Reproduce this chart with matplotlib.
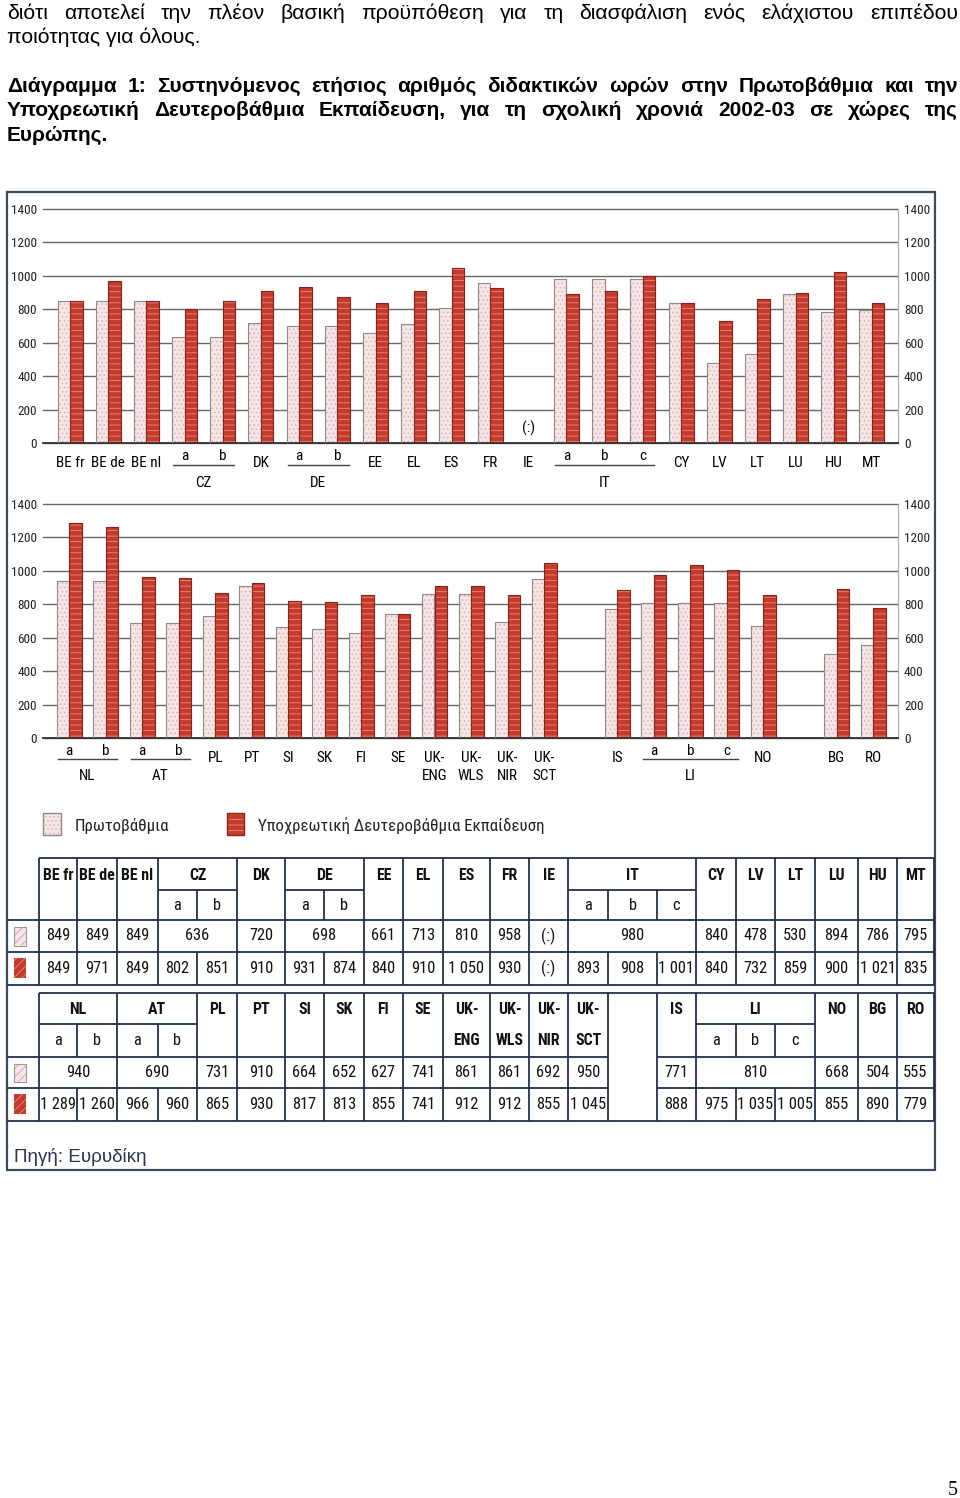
import os
import numpy as np
import matplotlib
matplotlib.use('Agg')
import matplotlib.pyplot as plt
from matplotlib import font_manager as fm
from matplotlib.font_manager import FontProperties
from matplotlib.ft2font import FT2Font
from matplotlib.patches import Rectangle
from matplotlib.transforms import blended_transform_factory

# ---------------- data ----------------
top_labels = ['BE fr', 'BE de', 'BE nl', 'a', 'b', 'DK', 'a', 'b', 'EE', 'EL', 'ES', 'FR', 'IE',
              'a', 'b', 'c', 'CY', 'LV', 'LT', 'LU', 'HU', 'MT']
top_primary = [849, 849, 849, 636, 636, 720, 698, 698, 661, 713, 810, 958, None,
               980, 980, 980, 840, 478, 530, 894, 786, 795]
top_secondary = [849, 971, 849, 802, 851, 910, 931, 874, 840, 910, 1050, 930, None,
                 893, 908, 1001, 840, 732, 859, 900, 1021, 835]
top_groups = [('CZ', 3, 4), ('DE', 6, 7), ('IT', 13, 15)]

bottom_labels = ['a', 'b', 'a', 'b', 'PL', 'PT', 'SI', 'SK', 'FI', 'SE', 'UK-\nENG', 'UK-\nWLS',
                 'UK-\nNIR', 'UK-\nSCT', None, 'IS', 'a', 'b', 'c', 'NO', None, 'BG', 'RO']
bottom_primary = [940, 940, 690, 690, 731, 910, 664, 652, 627, 741, 861, 861, 692, 950, None,
                  771, 810, 810, 810, 668, None, 504, 555]
bottom_secondary = [1289, 1260, 966, 960, 865, 930, 817, 813, 855, 741, 912, 912, 855, 1045, None,
                    888, 975, 1035, 1005, 855, None, 890, 779]
bottom_groups = [('NL', 0, 1), ('AT', 2, 3), ('LI', 16, 18)]
# chart slots shown as table columns (slot 20 is only a spacer in the chart)
bottom_table_slots = [i for i in range(len(bottom_labels)) if i != 20]

y_ticks = [0, 200, 400, 600, 800, 1000, 1200, 1400]
legend_labels = ['Πρωτοβάθμια', 'Υποχρεωτική Δευτεροβάθμια Εκπαίδευση']
missing_text = '(:)'

body_lines = ['διότι αποτελεί την πλέον βασική προϋπόθεση για τη διασφάλιση ενός ελάχιστου επιπέδου',
              'ποιότητας για όλους.']
caption_lines = ['Διάγραμμα 1:  Συστηνόμενος ετήσιος αριθμός διδακτικών ωρών στην Πρωτοβάθμια και την',
                 'Υποχρεωτική Δευτεροβάθμια Εκπαίδευση, για τη σχολική χρονιά 2002-03 σε χώρες της',
                 'Ευρώπης.']
source_text = 'Πηγή: Ευρυδίκη'
page_number = '5'

# ---------------- style ----------------
W, H = 960, 1498
RED = '#c43a2c'
RED_HATCH = '#e88c80'
RED_EDGE = '#8a2117'
LIGHT = '#f8e6e6'
LIGHT_HATCH = '#c8b4b4'
LIGHT_EDGE = '#8e8888'
GRID = '#666666'
LINE = '#23304d'
FRAME = '#3b4b5e'
plt.rcParams['hatch.linewidth'] = 0.6

paths = fm.findSystemFonts()
lowmap = {os.path.basename(p).lower(): p for p in paths}


def has_greek(path):
    try:
        cm = FT2Font(path).get_charmap()
        return ord('Π') in cm and ord('ά') in cm
    except Exception:
        return False


def pick(names, bold):
    for n in names:
        p = lowmap.get(n.lower())
        if p and has_greek(p):
            return p
    cands = []
    for base, p in lowmap.items():
        if not base.endswith(('.ttf', '.otf')):
            continue
        if ('condensed' in base or 'narrow' in base) and 'italic' not in base and 'oblique' not in base:
            isb = 'bold' in base and 'semi' not in base and 'extra' not in base.replace('extracondensed', '')
            if isb == bold and 'light' not in base and 'thin' not in base and 'black' not in base \
                    and 'medium' not in base and has_greek(p):
                cands.append(p)
    cands.sort()
    return cands[0] if cands else None


REG = pick(['RobotoCondensed-Regular.ttf', 'Roboto-Condensed.ttf', 'OpenSans-CondensedRegular.ttf',
            'OpenSans_Condensed-Regular.ttf', 'NotoSans-Condensed.ttf', 'NotoSans-ExtraCondensed.ttf',
            'LiberationSansNarrow-Regular.ttf', 'DejaVuSansCondensed.ttf'], False)
BOLD = pick(['RobotoCondensed-Bold.ttf', 'Roboto-BoldCondensed.ttf', 'OpenSans-CondensedBold.ttf',
             'OpenSans_Condensed-Bold.ttf', 'NotoSans-CondensedBold.ttf',
             'NotoSans-ExtraCondensedBold.ttf', 'LiberationSansNarrow-Bold.ttf',
             'DejaVuSansCondensed-Bold.ttf'], True)


def fp(size, bold=False):
    path = BOLD if bold else REG
    if path:
        return FontProperties(fname=path, size=size)
    return FontProperties(family='Liberation Sans', size=size, weight='bold' if bold else 'normal')


fig = plt.figure(figsize=(W / 100, H / 100), dpi=100)
fig.patch.set_facecolor('white')
page = fig.add_axes([0, 0, 1, 1])
page.set_xlim(0, W)
page.set_ylim(H, 0)
page.axis('off')
page.set_zorder(0)
renderer = fig.canvas.get_renderer()


def text_w(s, props):
    t = page.text(0, 0, s, fontproperties=props)
    w = t.get_window_extent(renderer).width
    t.remove()
    return w


def fit(s, target, base, bold=False):
    w = text_w(s, fp(base, bold))
    return min(base, base * target / w) if w > 0 else base


TICK_SZ = fit('1400', 26, 13.5)
CAT_SZ = fit('BE de', 34, 14)
HDR_SZ = fit('BE de', 36, 14.5, True)
VAL_SZ = fit('1 001', 36, 14.5)
LEG_SZ = fit(legend_labels[1], 288, 18)


# ---------------- body text ----------------
def place_line(text, y, x0, x1, props, justify=True):
    words = text.split()
    if not justify:
        page.text(x0, y, text, fontproperties=props, va='baseline', ha='left', color='black')
        return
    ts = [page.text(0, y, w, fontproperties=props, va='baseline', ha='left', color='black')
          for w in words]
    widths = [t.get_window_extent(renderer).width for t in ts]
    gap = (x1 - x0 - sum(widths)) / (len(words) - 1)
    x = x0
    for t, w in zip(ts, widths):
        t.set_x(x)
        x += w + gap


body_fp = FontProperties(family='Liberation Sans', size=15.3)
cap_fp = FontProperties(family='Liberation Sans', size=15.0, weight='bold')
place_line(body_lines[0], 19, 7, 958, body_fp, True)
place_line(body_lines[1], 43, 7, 958, body_fp, False)
place_line(caption_lines[0], 92, 7, 958, cap_fp, True)
place_line(caption_lines[1], 116, 7, 958, cap_fp, True)
place_line(caption_lines[2], 141, 7, 958, cap_fp, False)

# frame of the chart picture
page.add_patch(Rectangle((7, 192), 928, 978, fill=False, edgecolor=FRAME, lw=1.6))


# ---------------- bar panels ----------------
def panel(top_px, zero_px, labels, prim, sec, groups, c0, step, lab_base, sub_base, grp_line, grp_base):
    ax = fig.add_axes([43 / W, 1 - zero_px / H, 855 / W, (zero_px - top_px) / H])
    ax.set_zorder(1)
    ax.patch.set_alpha(0)
    ax.set_xlim((43 - c0) / step, (898 - c0) / step)
    ax.set_ylim(0, 1400)
    bw = 12.5 / step
    ip = [i for i, v in enumerate(prim) if v is not None]
    isec = [i for i, v in enumerate(sec) if v is not None]
    xp = np.array(ip) - bw / 2
    hp = [prim[i] for i in ip]
    xs = np.array(isec) + bw / 2
    hs = [sec[i] for i in isec]
    ax.bar(xp, hp, bw, color=LIGHT, edgecolor=LIGHT_HATCH, hatch='....', lw=0, zorder=2)
    ax.bar(xp, hp, bw, fill=False, edgecolor=LIGHT_EDGE, lw=0.8, zorder=3)
    ax.bar(xs, hs, bw, color=RED, edgecolor=RED_HATCH, hatch='---', lw=0, zorder=2)
    ax.bar(xs, hs, bw, fill=False, edgecolor=RED_EDGE, lw=0.8, zorder=3)
    for i, lab in enumerate(labels):
        if lab is not None and prim[i] is None:
            ax.text(i, 85, missing_text, ha='center', va='center', fontproperties=fp(CAT_SZ))
    ax.set_yticks(y_ticks)
    ax.set_yticklabels([str(v) for v in y_ticks], fontproperties=fp(TICK_SZ), color='#222222')
    ax.tick_params(axis='y', left=False, right=False, labelleft=True, labelright=True,
                   length=0, pad=4.3)
    ax.set_xticks([])
    ax.yaxis.grid(True, color=GRID, lw=1.0)
    for gl in ax.get_ygridlines():
        gl.set_clip_on(False)
    ax.set_axisbelow(True)
    for s in ['left', 'top']:
        ax.spines[s].set_visible(False)
    ax.spines['right'].set_color('#aaaaaa')
    ax.spines['right'].set_linewidth(0.8)
    ax.spines['bottom'].set_color('#333333')
    ax.spines['bottom'].set_linewidth(1.3)
    tr = blended_transform_factory(ax.transData, page.transData)
    grouped = {i for _, a, b in groups for i in range(a, b + 1)}
    for i, lab in enumerate(labels):
        if lab is None:
            continue
        if i in grouped:
            page.text(i, sub_base, lab, transform=tr, ha='center', va='baseline',
                      fontproperties=fp(CAT_SZ))
        else:
            parts = lab.split('\n')
            for k, p in enumerate(parts):
                page.text(i, lab_base + k * 18, p, transform=tr, ha='center', va='baseline',
                          fontproperties=fp(CAT_SZ))
    for name, a, b in groups:
        page.plot([a - 0.3, b + 0.3], [grp_line, grp_line], transform=tr, color='#444444', lw=1.0)
        page.text((a + b) / 2, grp_base, name, transform=tr, ha='center', va='baseline',
                  fontproperties=fp(CAT_SZ))
    return ax


panel(209, 443, top_labels, top_primary, top_secondary, top_groups, 70, 38.19, 467, 460, 465, 487)
panel(504, 738, bottom_labels, bottom_primary, bottom_secondary, bottom_groups, 69, 36.55,
      762, 755, 759, 780)

# ---------------- legend ----------------
page.add_patch(Rectangle((43, 813), 18, 22, facecolor=LIGHT, edgecolor=LIGHT_HATCH, hatch='....', lw=0))
page.add_patch(Rectangle((43, 813), 18, 22, fill=False, edgecolor=LIGHT_EDGE, lw=1.0))
page.add_patch(Rectangle((227, 813), 17, 22, facecolor=RED, edgecolor=RED_HATCH, hatch='---', lw=0))
page.add_patch(Rectangle((227, 813), 17, 22, fill=False, edgecolor=RED_EDGE, lw=1.0))
page.text(75, 826, legend_labels[0], fontproperties=fp(LEG_SZ), va='center', ha='left', color='#222222')
page.text(258, 826, legend_labels[1], fontproperties=fp(LEG_SZ), va='center', ha='left', color='#222222')

# ---------------- tables ----------------
bounds = [39, 77, 117, 158, 197, 237, 285, 324, 364, 403, 443, 490, 529, 568, 608, 657,
          696, 736, 775, 815, 858, 897, 934]


def fmt(v):
    return missing_text if v is None else f'{v:,}'.replace(',', ' ')


def table(slots, labels, prim, sec, groups, rows):
    y0, y1, y2, y3, y4 = rows
    leaf_of = {s: k for k, s in enumerate(slots)}
    grp_of = {}
    for name, a, b in groups:
        for i in range(a, b + 1):
            grp_of[i] = (name, a, b)
    blank = [k for k, s in enumerate(slots) if labels[s] is None]
    kw = dict(color=LINE, lw=1.3, solid_capstyle='butt')
    page.plot([39, 934], [y0, y0], **kw)
    for yy in (y2, y3):
        xs_ = [7] + [v for k in blank for v in (bounds[k], bounds[k + 1])] + [934]
        for j in range(0, len(xs_), 2):
            page.plot([xs_[j], xs_[j + 1]], [yy, yy], **kw)
    page.plot([7, 934], [y4, y4], **kw)
    for name, a, b in groups:
        page.plot([bounds[leaf_of[a]], bounds[leaf_of[b] + 1]], [y1, y1], **kw)
    for k, xb in enumerate(bounds):
        left_slot = slots[k - 1] if k > 0 else None
        right_slot = slots[k] if k < len(slots) else None
        internal = (left_slot in grp_of and right_slot in grp_of and
                    grp_of[left_slot] == grp_of[right_slot])
        if internal:
            page.plot([xb, xb], [y1, y2], **kw)
            page.plot([xb, xb], [y3, y4], **kw)
        else:
            page.plot([xb, xb], [y0, y4], **kw)
    page.add_patch(Rectangle((14, y2 + 7), 12, y3 - y2 - 13, facecolor=LIGHT, edgecolor='#bfaaaa',
                             hatch='////', lw=0))
    page.add_patch(Rectangle((14, y2 + 7), 12, y3 - y2 - 13, fill=False, edgecolor='#999999', lw=0.8))
    page.add_patch(Rectangle((14, y3 + 6), 12, y4 - y3 - 13, facecolor=RED, edgecolor=RED_HATCH,
                             hatch='////', lw=0))
    hc, sc = (y0 + y1) / 2, (y1 + y2) / 2
    r1, r2 = (y2 + y3) / 2, (y3 + y4) / 2
    hfp, vfp, sfp = fp(HDR_SZ, True), fp(VAL_SZ), fp(VAL_SZ)
    done = set()
    for k, s in enumerate(slots):
        lab = labels[s]
        if lab is None:
            continue
        cx = (bounds[k] + bounds[k + 1]) / 2
        if s in grp_of:
            name, a, b = grp_of[s]
            if name not in done:
                done.add(name)
                gx = (bounds[leaf_of[a]] + bounds[leaf_of[b] + 1]) / 2
                page.text(gx, hc + 1, name, fontproperties=hfp, ha='center', va='center', color='#111111')
                page.text(gx, r1, fmt(prim[a]), fontproperties=vfp, ha='center', va='center', color='#111111')
            page.text(cx, sc, lab, fontproperties=sfp, ha='center', va='center', color='#111111')
        else:
            parts = lab.split('\n')
            page.text(cx, hc + 1, parts[0], fontproperties=hfp, ha='center', va='center', color='#111111')
            if len(parts) > 1:
                page.text(cx, sc, parts[1], fontproperties=hfp, ha='center', va='center', color='#111111')
            page.text(cx, r1, fmt(prim[s]), fontproperties=vfp, ha='center', va='center', color='#111111')
        page.text(cx, r2, fmt(sec[s]), fontproperties=vfp, ha='center', va='center', color='#111111')


table(list(range(len(top_labels))), top_labels, top_primary, top_secondary, top_groups,
      (858, 890, 920, 952, 985))
table(bottom_table_slots, bottom_labels, bottom_primary, bottom_secondary, bottom_groups,
      (993, 1024, 1057, 1088, 1121))

page.text(14, 1162, source_text, fontproperties=FontProperties(family='Liberation Sans', size=13.5),
          va='baseline', ha='left', color='#2a3550')
page.text(958, 1495, page_number, fontproperties=FontProperties(family='Liberation Serif', size=14.5),
          va='baseline', ha='right', color='black')

fig.savefig('out.png', dpi=100, facecolor='white')
